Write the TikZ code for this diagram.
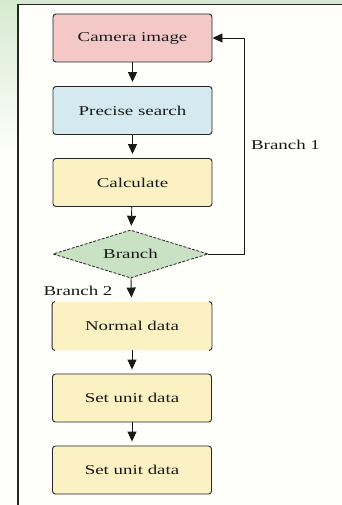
\documentclass[tikz,border=0pt]{standalone}
\usepackage{fontspec}
\newfontfamily\flowfont[FakeStretch=1.4]{Liberation Serif}
\usetikzlibrary{shapes.geometric}
\usetikzlibrary{arrows.meta}
\usetikzlibrary{positioning}
\definecolor{camcol}{RGB}{245,200,200}
\definecolor{precol}{RGB}{212,234,240}
\definecolor{calcol}{RGB}{251,241,195}
\definecolor{brancol}{RGB}{202,226,196}
\definecolor{bggreen}{RGB}{214,234,209}
\definecolor{paper}{RGB}{254,254,250}

\begin{document}
\begin{tikzpicture}[x=1pt, y=-1pt]
				\tikzstyle{boxnode}=[draw=black!85, line width=0.9pt, rounded corners=3pt, minimum height=48pt, minimum width=159pt, inner sep=0pt, fill=calcol, text=black!90, font=\flowfont\fontsize{13.5}{15}\selectfont]
				\tikzstyle{branchnode}=[diamond, draw=black!85, line width=0.8pt, dash pattern=on 3pt off 1.5pt, aspect=3.2, minimum height=48pt, minimum width=155pt, inner sep=0pt, fill=brancol, text=black!90, font=\flowfont\fontsize{13.5}{15}\selectfont]
				\tikzstyle{labelnode}=[inner sep=0pt, text=black!90, font=\flowfont\fontsize{13.5}{15}\selectfont]
				\tikzstyle{flowarrow}=[-{Triangle[width=9pt,length=10pt]}, line width=0.9pt, black!90, shorten >=4pt]
				
				\useasboundingbox (0,0) rectangle (342,505);
				\fill[paper] (0,0) rectangle (342,505);
				\shade[top color=bggreen, bottom color=paper] (0,0) rectangle (18,150);
				\fill[bggreen] (0,0) rectangle (342,4.5);
				\draw[line width=1.6pt, black!85] (18,505) -- (18,4.5) -- (342,4.5);
				
				\node (t0) at (132.5,38) [boxnode, fill=camcol] {Camera image};
				\node (t1) at (132.5,110.5) [boxnode, fill=precol] {Precise search};
				\node (t2) at (132.5,182.5) [boxnode] {Calculate};
				\node (t3) at (130.5,254) [branchnode] {Branch};
				\node (t4) at (132,326) [boxnode, draw=none] {Normal data};
				\node (t5) at (132,398) [boxnode] {Set unit data};
				\node (t6) at (132,470) [boxnode] {Set unit data};
				
				\node (b1) at (285.5,145) [labelnode] {Branch 1};
				\node (b2) at (78,291) [labelnode] {Branch 2};
				
				\draw [line width=0.9pt, black!85, rounded corners=3pt] ([xshift=3pt]t4.north west) -- (t4.north west) -- (t4.south west) -- ([xshift=3pt]t4.south west);
				\draw [line width=0.9pt, black!85, rounded corners=3pt] ([xshift=-3pt]t4.north east) -- (t4.north east) -- (t4.south east) -- ([xshift=-3pt]t4.south east);
				
				\draw [flowarrow] (t0) -- (t1);
				\draw [flowarrow] (t1) -- (t2);
				\draw [flowarrow] (t2) -- (t3);
				\draw [flowarrow] (t3) -- (t4);
				\draw [flowarrow] (t4) -- (t5);
				\draw [flowarrow] (t5) -- (t6);
				\draw [flowarrow, shorten >=0pt] (t3.east) -- ++(36,0) |- (t0.east);
				\end{tikzpicture}
\end{document}
